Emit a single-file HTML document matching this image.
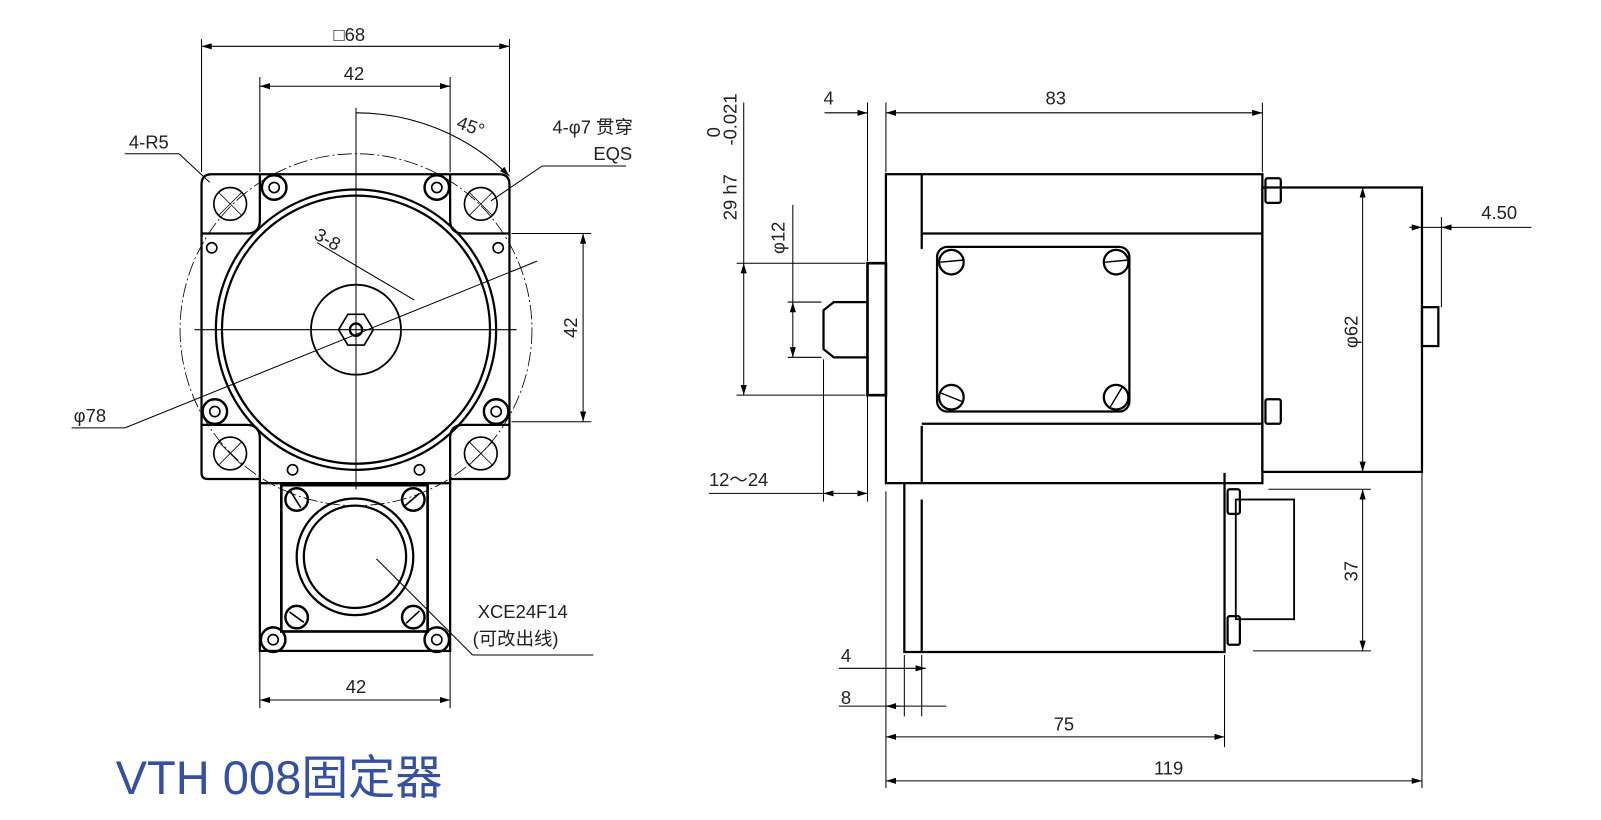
<!DOCTYPE html>
<html><head><meta charset="utf-8"><style>
html,body{margin:0;padding:0;background:#fff;width:1601px;height:820px;overflow:hidden}
svg{display:block}
text{font-family:"Liberation Sans","Noto Sans CJK SC",sans-serif;fill:#222;font-size:18px}
</style></head><body>
<svg width="1601" height="820" viewBox="0 0 1565 801" xmlns="http://www.w3.org/2000/svg">
<defs><marker id="a" markerWidth="10" markerHeight="6" refX="10" refY="3" orient="auto-start-reverse" markerUnits="userSpaceOnUse"><path d="M0,0 L10,3 L0,6 z" fill="#000"/></marker></defs>
<g fill="none" stroke="#000" stroke-width="1">
<line x1="197" y1="38" x2="197" y2="168"/><line x1="498" y1="38" x2="498" y2="168"/>
<line x1="197" y1="45" x2="498" y2="45" marker-start="url(#a)" marker-end="url(#a)"/>
<line x1="254" y1="75" x2="254" y2="168"/><line x1="440" y1="75" x2="440" y2="168"/>
<line x1="254" y1="84" x2="440" y2="84" marker-start="url(#a)" marker-end="url(#a)"/>
<line x1="500" y1="228" x2="578" y2="228"/><line x1="500" y1="412" x2="578" y2="412"/>
<line x1="570" y1="228" x2="570" y2="412" marker-start="url(#a)" marker-end="url(#a)"/>
<line x1="254" y1="620" x2="254" y2="692"/><line x1="440" y1="620" x2="440" y2="692"/>
<line x1="254" y1="684" x2="440" y2="684" marker-start="url(#a)" marker-end="url(#a)"/>
<path d="M348 110 A212 212 0 0 1 498 172" marker-end="url(#a)"/>
<line x1="122" y1="150" x2="175" y2="150"/><line x1="175" y1="150" x2="205" y2="178"/>
<line x1="530" y1="162" x2="612" y2="162"/><line x1="530" y1="162" x2="480" y2="196"/>
<line x1="70" y1="418" x2="122" y2="418"/><line x1="122" y1="418" x2="525" y2="255"/>
<line x1="310" y1="237" x2="405" y2="293"/>
<line x1="462" y1="640" x2="580" y2="640"/><line x1="462" y1="640" x2="368" y2="546"/>
<line x1="348" y1="105" x2="348" y2="478"/><line x1="190" y1="322" x2="505" y2="322"/>
<circle cx="348" cy="322" r="172" stroke-dasharray="14 3 2 3" stroke-width="0.8"/>
</g>
<g fill="none" stroke="#000" stroke-width="2.2">
<path d="M207 170 H488 Q498 170 498 180 V462 Q498 468 492 468 H440 V472 H254 V468 H203 Q197 468 197 462 V180 Q197 170 207 170 Z"/>
<path d="M254 170 V215 Q254 228 241 228 H197"/><path d="M440 170 V215 Q440 228 453 228 H498"/>
<path d="M254 468 V428 Q254 415 241 415 H197"/><path d="M440 468 V428 Q440 415 453 415 H498"/>
<circle cx="348" cy="322" r="137"/><circle cx="348" cy="322" r="131"/>
<circle cx="348" cy="322" r="44" stroke-width="1.8"/>
<polygon points="331,322 340,307 356,307 365,322 356,337 340,337" stroke-width="1.6"/>
<circle cx="348" cy="322" r="6"/>
<rect x="254" y="472" width="186" height="164"/>
<rect x="275" y="474" width="143" height="143" stroke-width="2.6"/>
<circle cx="347" cy="544" r="57"/><circle cx="347" cy="544" r="50"/>
</g>
<g fill="none" stroke="#000" stroke-width="1.6">
<circle cx="225" cy="199" r="16"/><circle cx="470" cy="199" r="16"/><circle cx="225" cy="443" r="16"/><circle cx="470" cy="443" r="16"/>
<path d="M214 188 L236 210 M236 188 L214 210 M459 188 L481 210 M481 188 L459 210 M214 432 L236 454 M236 432 L214 454 M459 432 L481 454 M481 432 L459 454" stroke-width="0.8"/>
<circle cx="268" cy="183" r="12" stroke-width="2.4"/><circle cx="268" cy="183" r="5"/>
<circle cx="427" cy="183" r="12" stroke-width="2.4"/><circle cx="427" cy="183" r="5"/>
<circle cx="210" cy="402" r="12" stroke-width="2.4"/><circle cx="210" cy="402" r="5"/>
<circle cx="485" cy="402" r="12" stroke-width="2.4"/><circle cx="485" cy="402" r="5"/>
<circle cx="267" cy="625" r="12" stroke-width="2.4"/><circle cx="267" cy="625" r="5"/>
<circle cx="427" cy="625" r="12" stroke-width="2.4"/><circle cx="427" cy="625" r="5"/>
<circle cx="207" cy="242" r="5"/><circle cx="487" cy="242" r="5"/><circle cx="286" cy="459" r="5"/><circle cx="410" cy="459" r="5"/>
<circle cx="290" cy="488" r="11" stroke-width="2.4"/><circle cx="404" cy="488" r="11" stroke-width="2.4"/>
<circle cx="290" cy="603" r="11" stroke-width="2.4"/><circle cx="404" cy="603" r="11" stroke-width="2.4"/>
<path d="M284 480 L294 496 M396 494 L410 482 M283 598 L297 608 M397 609 L410 597"/>
</g>
<g style="font-stretch:condensed">
<text x="326" y="40">□68</text><text x="336" y="78">42</text>
<text x="126" y="145">4-R5</text><text x="540" y="130">4-φ7 贯穿</text><text x="580" y="156">EQS</text>
<text x="446" y="128" transform="rotate(20 456 124)" font-size="16">45°</text>
<text x="306" y="240" transform="rotate(30 320 236)" font-size="16">3-8</text>
<text x="72" y="412">φ78</text>
<text x="548" y="330" transform="rotate(-90 556 322)">42</text>
<text x="338" y="677">42</text>
<text x="467" y="604">XCE24F14</text><text x="462" y="630">(可改出线)</text>
</g>

<g fill="none" stroke="#000" stroke-width="1">
<line x1="848" y1="100" x2="848" y2="255"/><line x1="866" y1="100" x2="866" y2="168"/><line x1="1234" y1="100" x2="1234" y2="168"/>
<line x1="806" y1="110" x2="848" y2="110" marker-end="url(#a)"/><line x1="866" y1="110" x2="1234" y2="110" marker-start="url(#a)" marker-end="url(#a)"/>
<line x1="720" y1="257" x2="846" y2="257"/><line x1="720" y1="386" x2="846" y2="386"/>
<line x1="727" y1="257" x2="727" y2="386" marker-start="url(#a)" marker-end="url(#a)"/>
<line x1="770" y1="295" x2="803" y2="295"/><line x1="770" y1="349" x2="803" y2="349"/>
<line x1="775" y1="295" x2="775" y2="349" marker-start="url(#a)" marker-end="url(#a)"/>
<line x1="775" y1="200" x2="775" y2="295"/><line x1="727" y1="100" x2="727" y2="257"/>
<line x1="805" y1="351" x2="805" y2="490"/><line x1="848" y1="386" x2="848" y2="490"/>
<line x1="693" y1="482" x2="805" y2="482"/><line x1="805" y1="482" x2="848" y2="482" marker-start="url(#a)" marker-end="url(#a)"/>
<line x1="1390" y1="183" x2="1390" y2="770"/><line x1="1234" y1="183" x2="1340" y2="183"/><line x1="1234" y1="461" x2="1340" y2="461"/>
<line x1="1332" y1="183" x2="1332" y2="461" marker-start="url(#a)" marker-end="url(#a)"/>
<line x1="1378" y1="222" x2="1497" y2="222"/><line x1="1409" y1="212" x2="1409" y2="300"/>
<line x1="1378" y1="222" x2="1390" y2="222" marker-end="url(#a)"/><line x1="1420" y1="222" x2="1409" y2="222" marker-end="url(#a)"/>
<line x1="1240" y1="478" x2="1340" y2="478"/><line x1="1225" y1="636" x2="1340" y2="636"/>
<line x1="1332" y1="478" x2="1332" y2="636" marker-start="url(#a)" marker-end="url(#a)"/>
<line x1="866" y1="480" x2="866" y2="770"/><line x1="884" y1="640" x2="884" y2="700"/><line x1="901" y1="640" x2="901" y2="700"/>
<line x1="820" y1="653" x2="884" y2="653"/><line x1="884" y1="653" x2="905" y2="653" marker-end="url(#a)"/>
<line x1="820" y1="690" x2="866" y2="690"/><line x1="866" y1="690" x2="925" y2="690"/><line x1="880" y1="690" x2="866" y2="690" marker-end="url(#a)"/>
<line x1="1197" y1="640" x2="1197" y2="730"/>
<line x1="866" y1="720" x2="1197" y2="720" marker-start="url(#a)" marker-end="url(#a)"/>
<line x1="866" y1="763" x2="1390" y2="763" marker-start="url(#a)" marker-end="url(#a)"/>
</g>
<g fill="none" stroke="#000" stroke-width="2.2">
<rect x="866" y="170" width="368" height="302"/>
<path d="M901 170 V243 M901 416 V472 M901 228 H1234 M901 414 H1234"/>
<rect x="848" y="257" width="18" height="129" stroke-width="2.6"/>
<path d="M848 295 H815 L805 303 V341 L815 349 H848"/>
<path d="M884 472 V637 H1197 V462"/><path d="M901 488 V637"/>
<rect x="916" y="241" width="188" height="161" rx="10"/>
<circle cx="930" cy="256" r="12"/><circle cx="1091" cy="256" r="12"/><circle cx="930" cy="388" r="12"/><circle cx="1091" cy="388" r="12"/>
<path d="M919 256 L941 254 M1080 256 L1102 254 M920 384 L940 392 M1085 398 L1097 378" stroke-width="1.4"/>
<rect x="1234" y="183" width="156" height="278"/>
<rect x="1237" y="174" width="15" height="24" rx="2"/><rect x="1237" y="390" width="15" height="24" rx="2"/>
<rect x="1390" y="300" width="16" height="38"/>
<rect x="1208" y="488" width="57" height="117" stroke-width="1.8"/>
<rect x="1200" y="478" width="12" height="24" rx="2"/><rect x="1200" y="602" width="12" height="28" rx="2"/>
</g>
<g style="font-stretch:condensed">
<text x="805" y="102">4</text><text x="1022" y="102">83</text>
<text transform="translate(720,215) rotate(-90)" font-size="17">29 h7</text>
<text transform="translate(704,134) rotate(-90)" font-size="12">0</text>
<text transform="translate(720,142) rotate(-90)" font-size="12">-0.021</text>
<text transform="translate(767,248) rotate(-90)">φ12</text>
<text x="693" y="475">12～24</text>
<text x="1448" y="214">4.50</text>
<text transform="translate(1327,340) rotate(-90)">φ62</text>
<text transform="translate(1327,568) rotate(-90)">37</text>
<text x="822" y="647">4</text><text x="822" y="688">8</text>
<text x="1030" y="714">75</text><text x="1128" y="757">119</text>
</g>
<text x="113" y="776" style="fill:#3550a0;font-size:46px">VTH 008固定器</text>
</svg>
</body></html>
